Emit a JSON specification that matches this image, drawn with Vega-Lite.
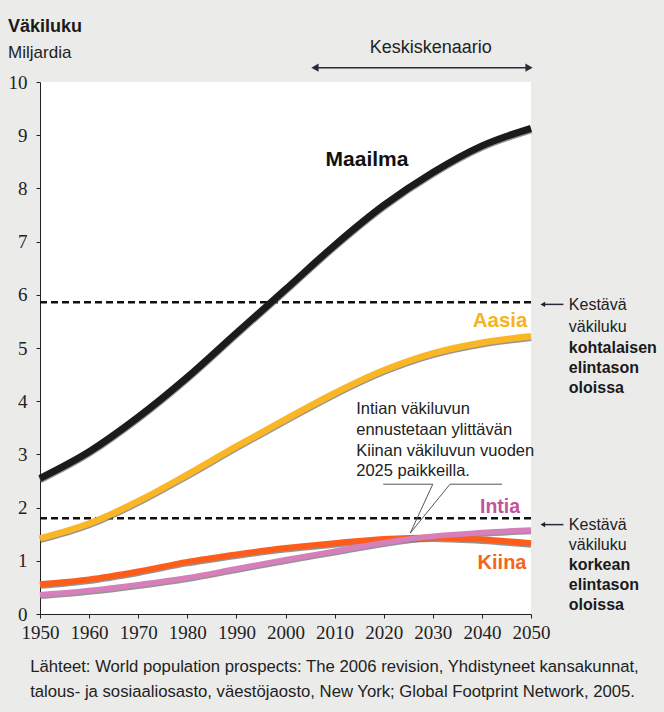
{
  "$schema": "https://vega.github.io/schema/vega-lite/v6.json",
  "width": 491,
  "height": 532,
  "autosize": {"type": "none"},
  "padding": {"left": 40, "top": 82, "right": 133, "bottom": 98},
  "background": "#ebebea",
  "config": {
    "view": {"fill": "#ffffff", "stroke": null},
    "font": "Liberation Sans",
    "axis": {"grid": false, "title": null, "labelFont": "Liberation Sans Narrow", "labelFontSize": 19, "labelColor": "#222222", "domainColor": "#222222", "tickColor": "#222222", "tickSize": 4, "labelOverlap": false, "labelFlush": false}
  },
  "datasets": {
    "pop": [
      {"year": 1950, "region": "Maailma", "value": 2.55}, {"year": 1960, "region": "Maailma", "value": 3.05}, {"year": 1970, "region": "Maailma", "value": 3.7}, {"year": 1980, "region": "Maailma", "value": 4.45}, {"year": 1990, "region": "Maailma", "value": 5.28}, {"year": 2000, "region": "Maailma", "value": 6.1}, {"year": 2010, "region": "Maailma", "value": 6.93}, {"year": 2020, "region": "Maailma", "value": 7.68}, {"year": 2030, "region": "Maailma", "value": 8.3}, {"year": 2040, "region": "Maailma", "value": 8.8}, {"year": 2050, "region": "Maailma", "value": 9.13},
      {"year": 1950, "region": "Aasia", "value": 1.42}, {"year": 1960, "region": "Aasia", "value": 1.7}, {"year": 1970, "region": "Aasia", "value": 2.12}, {"year": 1980, "region": "Aasia", "value": 2.62}, {"year": 1990, "region": "Aasia", "value": 3.15}, {"year": 2000, "region": "Aasia", "value": 3.66}, {"year": 2010, "region": "Aasia", "value": 4.15}, {"year": 2020, "region": "Aasia", "value": 4.58}, {"year": 2030, "region": "Aasia", "value": 4.9}, {"year": 2040, "region": "Aasia", "value": 5.1}, {"year": 2050, "region": "Aasia", "value": 5.22},
      {"year": 1950, "region": "Kiina", "value": 0.56}, {"year": 1960, "region": "Kiina", "value": 0.65}, {"year": 1970, "region": "Kiina", "value": 0.8}, {"year": 1980, "region": "Kiina", "value": 0.98}, {"year": 1990, "region": "Kiina", "value": 1.12}, {"year": 2000, "region": "Kiina", "value": 1.24}, {"year": 2010, "region": "Kiina", "value": 1.33}, {"year": 2020, "region": "Kiina", "value": 1.41}, {"year": 2030, "region": "Kiina", "value": 1.44}, {"year": 2040, "region": "Kiina", "value": 1.4}, {"year": 2050, "region": "Kiina", "value": 1.33},
      {"year": 1950, "region": "Intia", "value": 0.36}, {"year": 1960, "region": "Intia", "value": 0.44}, {"year": 1970, "region": "Intia", "value": 0.55}, {"year": 1980, "region": "Intia", "value": 0.68}, {"year": 1990, "region": "Intia", "value": 0.85}, {"year": 2000, "region": "Intia", "value": 1.02}, {"year": 2010, "region": "Intia", "value": 1.18}, {"year": 2020, "region": "Intia", "value": 1.34}, {"year": 2030, "region": "Intia", "value": 1.46}, {"year": 2040, "region": "Intia", "value": 1.53}, {"year": 2050, "region": "Intia", "value": 1.58}
    ]
  },
  "resolve": {"scale": {"color": "independent", "strokeWidth": "independent", "size": "independent"}},
  "layer": [
    {
      "data": {"values": [{"x": 1950, "x2": 2050, "y": 5.86}, {"x": 1950, "x2": 2050, "y": 1.8}]},
      "mark": {"type": "rule", "color": "#111111", "strokeWidth": 2.5, "strokeDash": [7, 4]},
      "encoding": {
        "x": {"field": "x", "type": "quantitative", "scale": {"domain": [1950, 2050], "nice": false, "zero": false}, "axis": {"values": [1950, 1960, 1970, 1980, 1990, 2000, 2010, 2020, 2030, 2040, 2050], "format": "d", "labelPadding": 5}},
        "x2": {"field": "x2"},
        "y": {"field": "y", "type": "quantitative", "scale": {"domain": [0, 10], "nice": false}, "axis": {"values": [0, 1, 2, 3, 4, 5, 6, 7, 8, 9, 10], "labelPadding": 9}}
      }
    },
    {
      "data": {"name": "pop"},
      "mark": {"type": "line", "interpolate": "monotone", "color": "#707070", "opacity": 0.75, "yOffset": 1.5, "strokeCap": "butt"},
      "encoding": {
        "x": {"field": "year", "type": "quantitative", "scale": {"domain": [1950, 2050]}},
        "y": {"field": "value", "type": "quantitative", "scale": {"domain": [0, 10]}},
        "detail": {"field": "region"},
        "strokeWidth": {"field": "region", "type": "nominal", "scale": {"domain": ["Maailma", "Aasia", "Kiina", "Intia"], "range": [7, 5.5, 6, 6]}, "legend": null}
      }
    },
    {
      "data": {"name": "pop"},
      "mark": {"type": "line", "interpolate": "monotone", "strokeCap": "butt"},
      "encoding": {
        "x": {"field": "year", "type": "quantitative", "scale": {"domain": [1950, 2050]}},
        "y": {"field": "value", "type": "quantitative", "scale": {"domain": [0, 10]}},
        "color": {"field": "region", "type": "nominal", "scale": {"domain": ["Maailma", "Aasia", "Kiina", "Intia"], "range": ["#1b1b1b", "#fbb625", "#ff5c1a", "#d67fba"]}, "legend": null},
        "strokeWidth": {"field": "region", "type": "nominal", "scale": {"domain": ["Maailma", "Aasia", "Kiina", "Intia"], "range": [7, 5.5, 6, 6]}, "legend": null}
      }
    },
    {
      "data": {"values": [{"region": "Maailma", "x": 2016.6, "y": 8.53}, {"region": "Aasia", "x": 2043.7, "y": 5.5}, {"region": "Intia", "x": 2043.7, "y": 2.01}, {"region": "Kiina", "x": 2044.1, "y": 0.96}]},
      "mark": {"type": "text", "fontWeight": "bold", "align": "center", "baseline": "middle"},
      "encoding": {
        "x": {"field": "x", "type": "quantitative", "scale": {"domain": [1950, 2050]}},
        "y": {"field": "y", "type": "quantitative", "scale": {"domain": [0, 10]}},
        "text": {"field": "region"},
        "color": {"field": "region", "type": "nominal", "scale": {"domain": ["Maailma", "Aasia", "Kiina", "Intia"], "range": ["#111111", "#f7b31c", "#f3661d", "#c2529b"]}, "legend": null},
        "size": {"field": "region", "type": "nominal", "scale": {"domain": ["Maailma", "Aasia", "Kiina", "Intia"], "range": [21, 19.5, 19.5, 20.5]}, "legend": null}
      }
    },
    {
      "data": {"values": [{"i": 0, "x": 2019.9, "y": 2.44}, {"i": 1, "x": 2030.0, "y": 2.44}, {"i": 2, "x": 2025.4, "y": 1.52}, {"i": 3, "x": 2033.5, "y": 2.44}, {"i": 4, "x": 2044.1, "y": 2.44}]},
      "mark": {"type": "line", "color": "#555555", "strokeWidth": 1},
      "encoding": {
        "x": {"field": "x", "type": "quantitative", "scale": {"domain": [1950, 2050]}},
        "y": {"field": "y", "type": "quantitative", "scale": {"domain": [0, 10]}},
        "order": {"field": "i"}
      }
    },
    {
      "data": {"values": [{"x": 2006.3, "x2": 2049.3, "y": 10.27}, {"x": 2052.6, "x2": 2056.6, "y": 5.82}, {"x": 2052.6, "x2": 2056.6, "y": 1.68}]},
      "mark": {"type": "rule", "color": "#2a2a3a", "strokeWidth": 1.5},
      "encoding": {
        "x": {"field": "x", "type": "quantitative", "scale": {"domain": [1950, 2050]}},
        "x2": {"field": "x2"},
        "y": {"field": "y", "type": "quantitative", "scale": {"domain": [0, 10]}}
      }
    },
    {
      "data": {"values": [{"x": 2006.0, "y": 10.27, "dir": "triangle-left"}, {"x": 2049.6, "y": 10.27, "dir": "triangle-right"}]},
      "mark": {"type": "point", "filled": true, "size": 70, "color": "#2a2a3a", "opacity": 1},
      "encoding": {
        "x": {"field": "x", "type": "quantitative", "scale": {"domain": [1950, 2050]}},
        "y": {"field": "y", "type": "quantitative", "scale": {"domain": [0, 10]}},
        "shape": {"field": "dir", "type": "nominal", "scale": {"domain": ["triangle-left", "triangle-right"], "range": ["triangle-left", "triangle-right"]}, "legend": null}
      }
    },
    {
      "data": {"values": [{"x": 2052.4, "y": 5.82}, {"x": 2052.4, "y": 1.68}]},
      "mark": {"type": "point", "filled": true, "size": 30, "shape": "triangle-left", "color": "#222222", "opacity": 1},
      "encoding": {
        "x": {"field": "x", "type": "quantitative", "scale": {"domain": [1950, 2050]}},
        "y": {"field": "y", "type": "quantitative", "scale": {"domain": [0, 10]}}
      }
    },
    {
      "data": {"values": [
        {"t": "Kestävä", "x": 2057.7, "y": 5.81}, {"t": "väkiluku", "x": 2057.7, "y": 5.39},
        {"t": "Kestävä", "x": 2057.7, "y": 1.67}, {"t": "väkiluku", "x": 2057.7, "y": 1.3}
      ]},
      "mark": {"type": "text", "fontSize": 16, "align": "left", "baseline": "middle", "color": "#222222"},
      "encoding": {
        "x": {"field": "x", "type": "quantitative", "scale": {"domain": [1950, 2050]}},
        "y": {"field": "y", "type": "quantitative", "scale": {"domain": [0, 10]}},
        "text": {"field": "t"}
      }
    },
    {
      "data": {"values": [
        {"t": "Intian väkiluvun", "x": 2014.4, "y": 3.85}, {"t": "ennustetaan ylittävän", "x": 2014.4, "y": 3.46},
        {"t": "Kiinan väkiluvun vuoden", "x": 2014.4, "y": 3.07}, {"t": "2025 paikkeilla.", "x": 2014.4, "y": 2.68}
      ]},
      "mark": {"type": "text", "fontSize": 16.5, "align": "left", "baseline": "middle", "color": "#222222"},
      "encoding": {
        "x": {"field": "x", "type": "quantitative", "scale": {"domain": [1950, 2050]}},
        "y": {"field": "y", "type": "quantitative", "scale": {"domain": [0, 10]}},
        "text": {"field": "t"}
      }
    },
    {
      "data": {"values": [
        {"t": "kohtalaisen", "x": 2057.7, "y": 5.0}, {"t": "elintason", "x": 2057.7, "y": 4.62}, {"t": "oloissa", "x": 2057.7, "y": 4.25},
        {"t": "korkean", "x": 2057.7, "y": 0.92}, {"t": "elintason", "x": 2057.7, "y": 0.55}, {"t": "oloissa", "x": 2057.7, "y": 0.17}
      ]},
      "mark": {"type": "text", "fontSize": 16, "fontWeight": "bold", "align": "left", "baseline": "middle", "color": "#1a1a1a"},
      "encoding": {
        "x": {"field": "x", "type": "quantitative", "scale": {"domain": [1950, 2050]}},
        "y": {"field": "y", "type": "quantitative", "scale": {"domain": [0, 10]}},
        "text": {"field": "t"}
      }
    },
    {
      "data": {"values": [{"t": "Väkiluku", "x": 1943.5, "y": 11.03}]},
      "mark": {"type": "text", "fontSize": 18, "fontWeight": "bold", "align": "left", "baseline": "middle", "color": "#1a1a1a"},
      "encoding": {
        "x": {"field": "x", "type": "quantitative", "scale": {"domain": [1950, 2050]}},
        "y": {"field": "y", "type": "quantitative", "scale": {"domain": [0, 10]}},
        "text": {"field": "t"}
      }
    },
    {
      "data": {"values": [{"t": "Miljardia", "x": 1943.5, "y": 10.54}]},
      "mark": {"type": "text", "fontSize": 17, "align": "left", "baseline": "middle", "color": "#222222"},
      "encoding": {
        "x": {"field": "x", "type": "quantitative", "scale": {"domain": [1950, 2050]}},
        "y": {"field": "y", "type": "quantitative", "scale": {"domain": [0, 10]}},
        "text": {"field": "t"}
      }
    },
    {
      "data": {"values": [{"t": "Keskiskenaario", "x": 2029.6, "y": 10.64}]},
      "mark": {"type": "text", "fontSize": 18, "align": "center", "baseline": "middle", "color": "#222222"},
      "encoding": {
        "x": {"field": "x", "type": "quantitative", "scale": {"domain": [1950, 2050]}},
        "y": {"field": "y", "type": "quantitative", "scale": {"domain": [0, 10]}},
        "text": {"field": "t"}
      }
    },
    {
      "data": {"values": [{"t": "Lähteet: World population prospects: The 2006 revision, Yhdistyneet kansakunnat,", "x": 1948.0, "y": -1.0}, {"t": "talous- ja sosiaaliosasto, väestöjaosto, New York; Global Footprint Network, 2005.", "x": 1948.0, "y": -1.47}]},
      "mark": {"type": "text", "fontSize": 16.7, "align": "left", "baseline": "middle", "color": "#222222"},
      "encoding": {
        "x": {"field": "x", "type": "quantitative", "scale": {"domain": [1950, 2050]}},
        "y": {"field": "y", "type": "quantitative", "scale": {"domain": [0, 10]}},
        "text": {"field": "t"}
      }
    }
  ]
}
